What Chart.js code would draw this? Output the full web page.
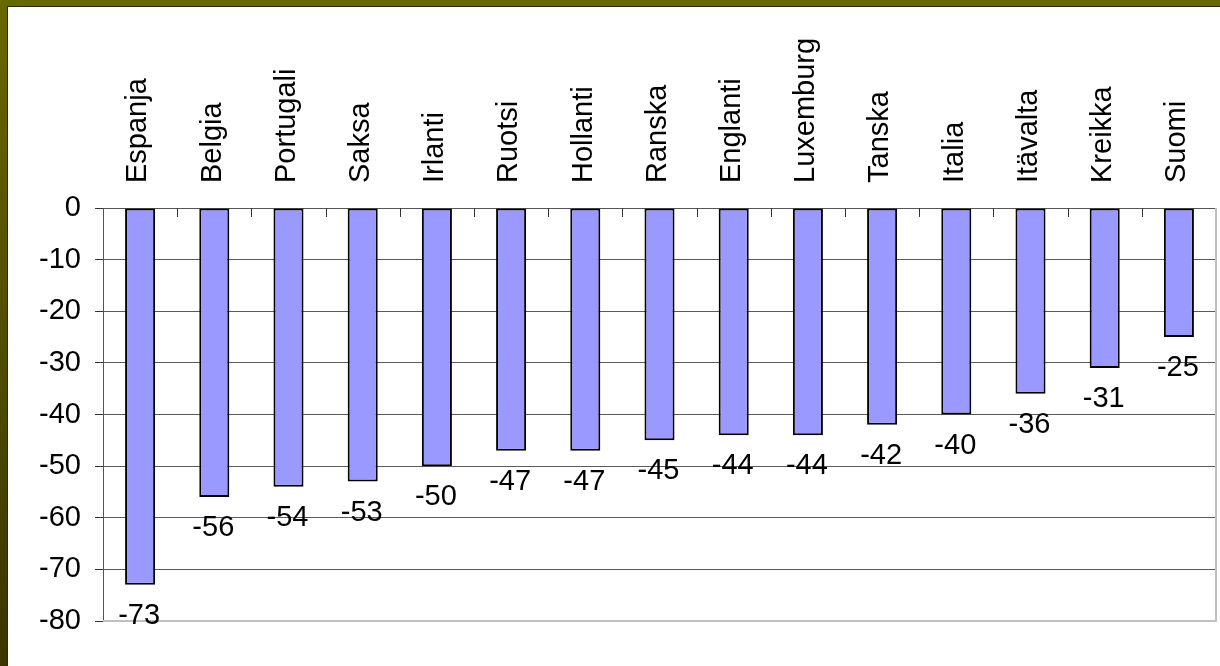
<!DOCTYPE html>
<html>
<head>
<meta charset="utf-8">
<script src="https://cdn.jsdelivr.net/npm/chart.js@4.4.3/dist/chart.umd.min.js"></script>
<style>
  html, body { margin: 0; padding: 0; }
  body {
    width: 1220px; height: 666px; overflow: hidden; position: relative;
    background: linear-gradient(#686800, #3a3500);
  }
  #frame {
    position: absolute; left: 7px; top: 6px; width: 1213px; height: 660px;
    background: #fff; box-sizing: border-box;
    border-top: 1px solid #2a2a10; border-left: 1px solid #2a2a10;
  }
  canvas { display: block; }
</style>
</head>
<body>
<div id="frame"><canvas id="c" width="1212" height="659"></canvas></div>
<script>
  var countries = ['Espanja', 'Belgia', 'Portugali', 'Saksa', 'Irlanti', 'Ruotsi', 'Hollanti',
    'Ranska', 'Englanti', 'Luxemburg', 'Tanska', 'Italia', 'Itävalta', 'Kreikka', 'Suomi'];
  var change = [-73, -56, -54, -53, -50, -47, -47, -45, -44, -44, -42, -40, -36, -31, -25];

  var yMin = -80;
  var yMax = 0;
  var yStep = 10;

  var FONT = '"Liberation Sans", Arial, sans-serif';
  var FONT_SIZE = 29;

  // value labels under each bar end
  var barLabels = {
    id: 'barLabels',
    afterDatasetsDraw: function (chart) {
      var ctx = chart.ctx;
      var meta = chart.getDatasetMeta(0);
      ctx.save();
      ctx.font = FONT_SIZE + 'px ' + FONT;
      ctx.fillStyle = '#000';
      ctx.textAlign = 'center';
      ctx.textBaseline = 'alphabetic';
      meta.data.forEach(function (bar, i) {
        ctx.fillText(String(change[i]), bar.x - 1, bar.y + 39);
      });
      ctx.restore();
    }
  };

  // plot frame (right/bottom) and category tick marks hanging from the zero line
  var plotFrame = {
    id: 'plotFrame',
    beforeDatasetsDraw: function (chart) {
      var ctx = chart.ctx;
      var a = chart.chartArea;
      var x = chart.scales.x;
      ctx.save();
      ctx.strokeStyle = '#c0c0c0';
      ctx.lineWidth = 2;
      ctx.beginPath();
      ctx.moveTo(a.left, a.bottom);
      ctx.lineTo(a.right, a.bottom);
      ctx.lineTo(a.right, a.top);
      ctx.stroke();

      ctx.strokeStyle = '#333';
      ctx.lineWidth = 1;
      ctx.beginPath();
      for (var i = 1; i < countries.length; i++) {
        var px = Math.round((x.getPixelForValue(i - 1) + x.getPixelForValue(i)) / 2) + 0.5;
        ctx.moveTo(px, a.top);
        ctx.lineTo(px, a.top + 9);
      }
      ctx.stroke();
      ctx.restore();
    }
  };

  new Chart(document.getElementById('c'), {
    type: 'bar',
    data: {
      labels: countries,
      datasets: [{
        data: change,
        backgroundColor: '#9999ff',
        borderColor: '#000',
        borderWidth: 2,
        borderSkipped: false,
        barPercentage: 0.405,
        categoryPercentage: 1
      }]
    },
    options: {
      responsive: false,
      animation: false,
      layout: { padding: { left: 0, top: 0, right: 4, bottom: 45 } },
      plugins: {
        legend: { display: false },
        tooltip: { enabled: false }
      },
      scales: {
        x: {
          position: 'top',
          offset: true,
          afterFit: function (s) { s.height = 201; },
          grid: { display: true, drawOnChartArea: false, drawTicks: false },
          border: { display: true, color: '#555' },
          ticks: {
            autoSkip: false,
            minRotation: 90,
            maxRotation: 90,
            padding: 25,
            labelOffset: 33,
            color: '#000',
            font: { family: FONT, size: FONT_SIZE }
          }
        },
        y: {
          min: yMin,
          max: yMax,
          afterFit: function (s) { s.width = 95; },
          border: { display: true, color: '#555' },
          grid: {
            color: function (c) { return c.tick && c.tick.value === yMin ? '#c0c0c0' : '#5a5a5a'; },
            tickColor: '#333',
            tickLength: 8
          },
          ticks: {
            stepSize: yStep,
            padding: 14,
            color: '#000',
            font: { family: FONT, size: FONT_SIZE }
          }
        }
      }
    },
    plugins: [plotFrame, barLabels]
  });
</script>
</body>
</html>
